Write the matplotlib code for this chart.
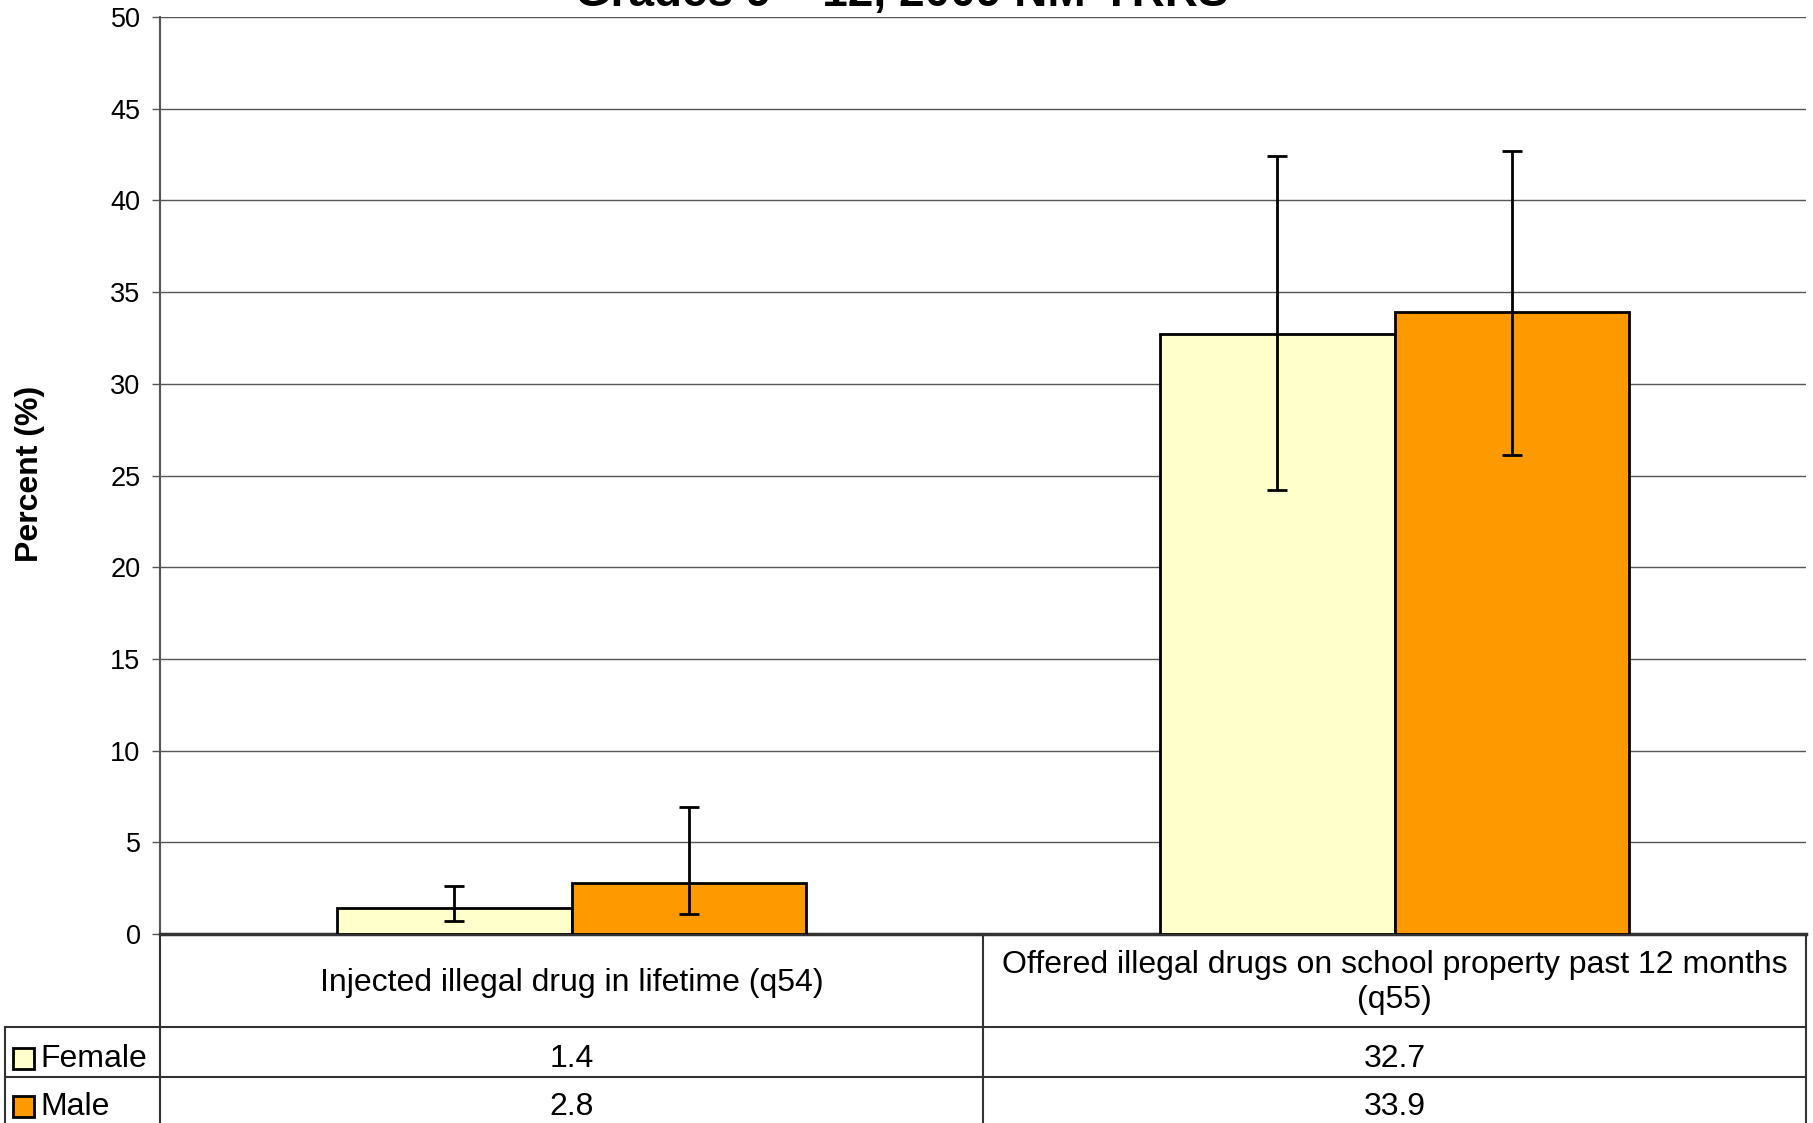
import matplotlib
matplotlib.use("Agg")
import matplotlib.pyplot as plt
from matplotlib.lines import Line2D
from matplotlib.patches import Rectangle
import numpy as np

plt.rcParams['font.family'] = ['Liberation Sans', 'DejaVu Sans']

title = "Grades 9 \u2013 12, 2009 NM-YRRS"
categories = ["Injected illegal drug in lifetime (q54)",
              "Offered illegal drugs on school property past 12 months\n(q55)"]
series_names = ["Female", "Male"]
female = [1.4, 32.7]
male = [2.8, 33.9]
female_lo = [0.7, 24.2]
female_hi = [2.6, 42.4]
male_lo = [1.1, 26.1]
male_hi = [6.9, 42.7]
colors = ["#FFFFCC", "#FF9900"]
yticks = [0, 5, 10, 15, 20, 25, 30, 35, 40, 45, 50]

W, H = 1813, 1123
fig = plt.figure(figsize=(W / 100, H / 100), dpi=100)

ax_l, ax_r, ax_t, ax_b = 160, 1806, 17, 934
ax = fig.add_axes([ax_l / W, 1 - ax_b / H, (ax_r - ax_l) / W, (ax_b - ax_t) / H])

x = np.arange(len(categories))
w = 0.285
vals = [female, male]
los = [female_lo, male_lo]
his = [female_hi, male_hi]
for i in range(2):
    pos = x + (i - 0.5) * w
    v = np.array(vals[i])
    err = np.array([v - np.array(los[i]), np.array(his[i]) - v])
    ax.bar(pos, v, width=w, color=colors[i], edgecolor="black", linewidth=2, zorder=3)
    ax.errorbar(pos, v, yerr=err, fmt="none", ecolor="black", elinewidth=2,
                capsize=7, capthick=2, zorder=4)

ax.set_xlim(-0.5, 1.5)
ax.set_ylim(0, 50)
ax.set_yticks(yticks)
ax.set_yticklabels([str(t) for t in yticks], fontsize=19.5)
ax.set_xticks([])
ax.grid(axis="y", color="#555555", linewidth=1, zorder=0)
ax.tick_params(axis="y", direction="out", length=6, width=1, color="#555555", pad=8)
for s in ["top", "right"]:
    ax.spines[s].set_visible(False)
ax.spines["left"].set_color("#555555")
ax.spines["left"].set_linewidth(1.5)
ax.spines["bottom"].set_color("#333333")
ax.spines["bottom"].set_linewidth(2.5)

fig.text(30 / W, 1 - 474 / H, "Percent (%)", rotation=90, ha="center", va="center",
         fontsize=23, fontweight="bold")

fig.text(902 / W, 1 - 6 / H, title, ha="center", va="baseline",
         fontsize=33, fontweight="bold")

# data table below axes
def fx(px):
    return px / W

def fy(py):
    return 1 - py / H

row_cat = (934, 1027)
row_f = (1027, 1077)
row_m = (1077, 1123)
mid = 983
tl = 5
lc = "#333333"
lines = [
    ((ax_l, ax_l), (ax_b, H)),
    ((mid, mid), (ax_b, H)),
    ((ax_r, ax_r), (ax_b, H)),
    ((tl, ax_r), (row_f[0], row_f[0])),
    ((tl, ax_r), (row_m[0], row_m[0])),
    ((tl, tl), (row_f[0], H)),
]
for (xs, ys) in lines:
    fig.add_artist(Line2D([fx(xs[0]), fx(xs[1])], [fy(ys[0]), fy(ys[1])],
                          color=lc, linewidth=1.5, transform=fig.transFigure))

cell_centers = [(ax_l + mid) / 2, (mid + ax_r) / 2]
for j, c in enumerate(categories):
    fig.text(fx(cell_centers[j]), fy((row_cat[0] + row_cat[1]) / 2 + 2), c,
             ha="center", va="center", fontsize=23, linespacing=1.2)

for i, (name, row) in enumerate(zip(series_names, [row_f, row_m])):
    yc = (row[0] + row[1]) / 2 + 7
    fig.add_artist(Rectangle((fx(13), fy(yc + 10)), 21 / W, 21 / H, facecolor=colors[i],
                             edgecolor="black", linewidth=2, transform=fig.transFigure))
    fig.text(fx(40), fy(yc), name, ha="left", va="center", fontsize=23)
    for j in range(len(categories)):
        fig.text(fx(cell_centers[j]), fy(yc), f"{vals[i][j]:.1f}", ha="center",
                 va="center", fontsize=23)

fig.savefig("out.png", dpi=100)
